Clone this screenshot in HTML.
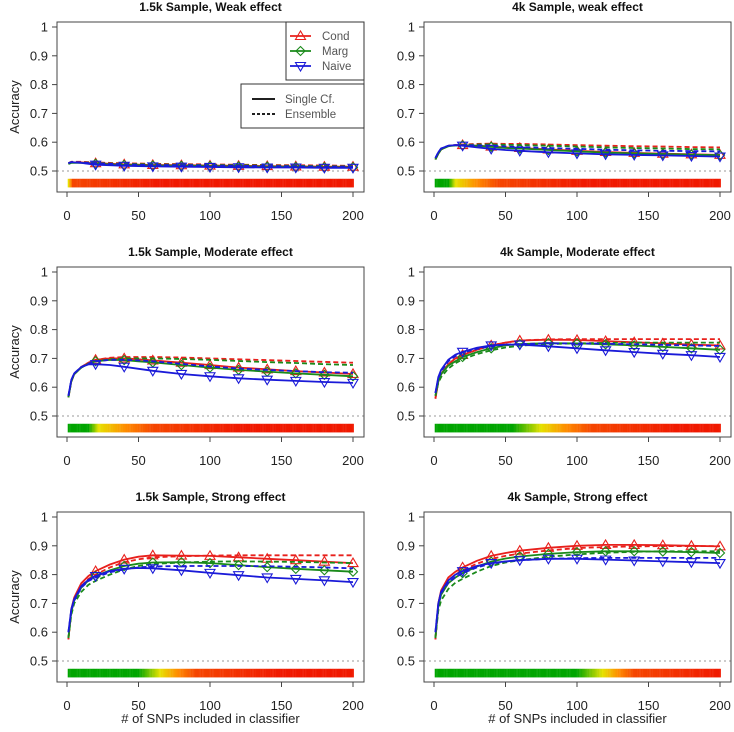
<!DOCTYPE html>
<html><head><meta charset="utf-8"><style>
body{margin:0;background:#fff;}
svg text{font-family:"Liberation Sans",Arial,sans-serif;}
</style></head><body>
<svg id="chart" width="734" height="727" viewBox="0 0 734 727" xmlns="http://www.w3.org/2000/svg"></svg>
<script>
const xs = [1,3,5,10,15,20,30,40,50,60,80,100,120,140,160,180,200];
const markerXs = [20,40,60,80,100,120,140,160,180,200];
const yTicks = [0.5,0.6,0.7,0.8,0.9,1];
const yTickLabels = ["0.5","0.6","0.7","0.8","0.9","1"];
const xTicks = [0,50,100,150,200];
const titles = ["1.5k Sample, Weak effect","4k Sample, weak effect","1.5k Sample, Moderate effect","4k Sample, Moderate effect","1.5k Sample, Strong effect","4k Sample, Strong effect"];

const p1condS=[.525,.53,.53,.53,.528,.527,.525,.523,.522,.521,.52,.519,.518,.517,.516,.515,.515];
const p1condE=[.527,.532,.532,.532,.531,.53,.528,.527,.526,.525,.524,.523,.522,.521,.52,.519,.518];
const p1margS=[.524,.528,.528,.528,.526,.525,.523,.521,.52,.519,.518,.517,.516,.515,.514,.513,.513];
const p1margE=[.526,.53,.53,.53,.529,.528,.526,.525,.524,.523,.522,.521,.52,.519,.518,.517,.516];
const p1naiveS=[.527,.531,.53,.528,.525,.522,.52,.518,.517,.516,.515,.514,.513,.512,.512,.511,.511];
const p1naiveE=[.527,.531,.531,.53,.528,.527,.525,.523,.522,.521,.52,.519,.518,.517,.516,.515,.515];

const p2condS=[.54,.56,.575,.587,.59,.59,.588,.585,.582,.58,.575,.57,.566,.563,.56,.558,.556];
const p2condE=[.54,.56,.575,.587,.59,.592,.594,.595,.594,.594,.592,.59,.588,.586,.585,.583,.582];
const p2margS=[.54,.56,.575,.586,.589,.589,.587,.584,.58,.578,.573,.568,.564,.561,.559,.557,.555];
const p2margE=[.54,.56,.575,.586,.589,.59,.592,.592,.591,.59,.588,.585,.582,.58,.578,.576,.575];
const p2naiveS=[.545,.565,.578,.588,.59,.588,.582,.577,.573,.57,.565,.561,.558,.556,.554,.552,.55];
const p2naiveE=[.545,.565,.578,.588,.59,.59,.589,.587,.585,.583,.58,.577,.574,.572,.57,.569,.568];

const p3condS=[.565,.62,.645,.67,.685,.695,.7,.7,.697,.693,.685,.677,.668,.662,.656,.651,.646];
const p3condE=[.565,.62,.645,.67,.685,.695,.702,.705,.705,.705,.703,.7,.697,.694,.691,.688,.685];
const p3margS=[.565,.62,.645,.668,.682,.69,.695,.694,.69,.686,.677,.668,.66,.654,.648,.643,.638];
const p3margE=[.565,.62,.645,.668,.682,.69,.697,.7,.7,.7,.698,.695,.691,.687,.684,.68,.677];
const p3naiveS=[.57,.625,.648,.67,.679,.68,.677,.671,.664,.657,.646,.638,.631,.626,.622,.618,.615];
const p3naiveE=[.57,.625,.648,.67,.682,.69,.695,.695,.693,.69,.681,.672,.665,.66,.656,.652,.65];

const p4condS=[.56,.62,.645,.68,.7,.712,.73,.745,.755,.762,.765,.764,.76,.756,.752,.748,.745];
const p4condE=[.56,.62,.645,.68,.7,.712,.73,.745,.755,.762,.766,.767,.767,.767,.767,.767,.767];
const p4margS=[.57,.62,.645,.675,.69,.705,.722,.735,.745,.75,.753,.752,.749,.745,.74,.735,.73];
const p4margE=[.57,.615,.635,.665,.683,.697,.715,.728,.738,.744,.75,.752,.754,.755,.755,.755,.755];
const p4naiveS=[.58,.635,.66,.695,.713,.723,.737,.745,.748,.748,.742,.735,.728,.722,.716,.711,.705];
const p4naiveE=[.58,.63,.655,.69,.708,.72,.733,.742,.748,.75,.752,.752,.751,.749,.747,.745,.743];

const p5condS=[.575,.68,.72,.77,.795,.812,.835,.852,.862,.867,.866,.865,.86,.855,.85,.845,.84];
const p5condE=[.575,.67,.71,.76,.785,.8,.825,.843,.853,.86,.864,.866,.867,.867,.867,.867,.867];
const p5margS=[.58,.67,.71,.755,.78,.795,.815,.83,.838,.842,.843,.84,.833,.826,.82,.815,.81];
const p5margE=[.58,.66,.7,.74,.765,.778,.8,.818,.83,.837,.842,.845,.846,.845,.844,.842,.84];
const p5naiveS=[.6,.68,.715,.76,.782,.795,.812,.82,.823,.822,.815,.806,.798,.79,.785,.78,.774];
const p5naiveE=[.6,.675,.71,.755,.778,.79,.808,.818,.825,.828,.83,.83,.83,.829,.827,.825,.822];

const p6condS=[.575,.7,.745,.79,.81,.825,.848,.865,.875,.883,.893,.9,.903,.903,.902,.9,.898];
const p6condE=[.575,.69,.735,.78,.8,.815,.838,.855,.865,.873,.884,.892,.896,.898,.899,.899,.899];
const p6margS=[.58,.69,.73,.77,.79,.805,.828,.845,.856,.863,.872,.878,.881,.881,.88,.878,.875];
const p6margE=[.58,.675,.71,.75,.772,.785,.81,.83,.842,.85,.862,.87,.876,.879,.881,.881,.881];
const p6naiveS=[.6,.7,.74,.78,.8,.812,.83,.84,.846,.85,.855,.855,.852,.849,.846,.843,.84];
const p6naiveE=[.6,.695,.735,.772,.792,.805,.825,.838,.845,.85,.855,.857,.858,.858,.858,.858,.858];

// heat bar transitions per panel: [green end, yellow at, red start] (SNP count)
const bar1=[0,1,4];
const bar2=[10,15,45];
const bar3=[15,22,60];
const bar4=[55,75,110];
const bar5=[50,65,90];
const bar6=[100,118,140];

const panels=[
 {s:[p1condS,p1condE,p1margS,p1margE,p1naiveS,p1naiveE],bar:bar1},
 {s:[p2condS,p2condE,p2margS,p2margE,p2naiveS,p2naiveE],bar:bar2},
 {s:[p3condS,p3condE,p3margS,p3margE,p3naiveS,p3naiveE],bar:bar3},
 {s:[p4condS,p4condE,p4margS,p4margE,p4naiveS,p4naiveE],bar:bar4},
 {s:[p5condS,p5condE,p5margS,p5margE,p5naiveS,p5naiveE],bar:bar5},
 {s:[p6condS,p6condE,p6margS,p6margE,p6naiveS,p6naiveE],bar:bar6}
];
const NS="http://www.w3.org/2000/svg";
const svg=document.getElementById('chart');
function mk(tag,attrs,parent){const e=document.createElementNS(NS,tag);for(const k in attrs)e.setAttribute(k,attrs[k]);(parent||svg).appendChild(e);return e;}
const colors=['#e8201c','#e8201c','#1a8a1a','#1a8a1a','#1a1ad8','#1a1ad8'];
const seriesNames=['cond-single','cond-ensemble','marg-single','marg-ensemble','naive-single','naive-ensemble'];
function lerp(a,b,t){return a.map((v,i)=>Math.round(v+(b[i]-v)*t));}
function barColor(x,b){
 const G=[0,165,0],Y=[230,225,0],O=[255,140,0],R=[240,25,0];
 if(x<=b[0])return G;
 if(x<=b[1])return lerp(G,Y,(x-b[0])/Math.max(1,b[1]-b[0]));
 const mid=(b[1]+b[2])/2;
 if(x<=mid)return lerp(Y,O,(x-b[1])/Math.max(1,mid-b[1]));
 if(x<=b[2])return lerp(O,[245,70,0],(x-mid)/Math.max(1,b[2]-mid));
 return lerp([245,70,0],R,Math.min(1,(x-b[2])/60));
}
panels.forEach((p,i)=>{
 const col=i%2,row=Math.floor(i/2);
 const L=57+col*367,T=22+row*245,W=307,H=170;
 const g=mk('g',{});
 
 
 const X=v=>L+10+v*1.43;
 const Y=v=>T+5+(1-v)*288;
 const t=mk('text',{x:L+W/2,y:T-11,'text-anchor':'middle','font-size':'12','font-weight':'bold',fill:'#111'},g);
 t.textContent=titles[i];
 
 
 // heat bar
 const hb=mk('g',{},g);
 
 
 for(let x=1;x<=200;x++){const c=barColor(x,p.bar);mk('rect',{x:X(x-0.5),y:Y(0.473),width:1.6,height:Y(0.443)-Y(0.473),fill:`rgb(${c})`},hb);}
 const ref=mk('line',{x1:L,x2:L+W,y1:Y(0.5),y2:Y(0.5),stroke:'#999','stroke-dasharray':'2,3','stroke-width':1},g);
 
 
 p.s.forEach((arr,k)=>{
  const d=arr.map((v,j)=>(j?'L':'M')+X(xs[j]).toFixed(1)+','+Y(v).toFixed(1)).join('');
  const pa=mk('path',{d:d,fill:'none',stroke:colors[k],'stroke-width':1.8,'stroke-dasharray':k%2?'5,3':'none'},g);
  
  
  if(k%2===0){
   markerXs.forEach(mx=>{
    const j=xs.indexOf(mx);const cx=X(mx),cy=Y(arr[j]);let pts;
    if(k===0)pts=`${cx},${cy-5} ${cx-5},${cy+3.5} ${cx+5},${cy+3.5}`;
    else if(k===2)pts=`${cx},${cy-4.5} ${cx+4.5},${cy} ${cx},${cy+4.5} ${cx-4.5},${cy}`;
    else pts=`${cx},${cy+5} ${cx-5},${cy-3.5} ${cx+5},${cy-3.5}`;
    const m=mk('polygon',{points:pts,fill:'none',stroke:colors[k],'stroke-width':1.1},g);
    
    
   });
  }
 });
 const box=mk('rect',{x:L,y:T,width:W,height:H,fill:'none',stroke:'#444','stroke-width':1},g);
 
 
 yTicks.forEach((v,j)=>{
  mk('line',{x1:L,x2:L-5,y1:Y(v),y2:Y(v),stroke:'#444'},g);
  const tx=mk('text',{x:L-9,y:Y(v)+4.5,'text-anchor':'end','font-size':'13',fill:'#222'},g);
  tx.textContent=yTickLabels[j];
  
  
 });
 xTicks.forEach(v=>{
  mk('line',{x1:X(v),x2:X(v),y1:T+H,y2:T+H+5,stroke:'#444'},g);
  const tx=mk('text',{x:X(v),y:T+H+28,'text-anchor':'middle','font-size':'13',fill:'#222'},g);
  tx.textContent=v;
  
  
 });
 if(col===0){
  const yl=mk('text',{x:0,y:0,transform:`translate(19,${T+H/2}) rotate(-90)`,'text-anchor':'middle','font-size':'13',fill:'#222'},g);
  yl.textContent='Accuracy';
  
  
 }
 if(row===2){
  const xl=mk('text',{x:L+W/2,y:723,'text-anchor':'middle','font-size':'13',fill:'#222'},g);
  xl.textContent='# of SNPs included in classifier';
  
  
 }
});
// legends
const lg=mk('g',{});


mk('rect',{x:286,y:22,width:78,height:58,fill:'#fff',stroke:'#333'},lg);
[['Cond',0,'up'],['Marg',2,'dia'],['Naive',4,'down']].forEach((e,j)=>{
 const cy=36+j*15,c=colors[e[1]];
 mk('line',{x1:290,x2:311,y1:cy,y2:cy,stroke:c,'stroke-width':1.8},lg);
 const cx=300.5;let pts;
 if(e[2]==='up')pts=`${cx},${cy-5} ${cx-5},${cy+3.5} ${cx+5},${cy+3.5}`;
 else if(e[2]==='dia')pts=`${cx},${cy-4.5} ${cx+4.5},${cy} ${cx},${cy+4.5} ${cx-4.5},${cy}`;
 else pts=`${cx},${cy+5} ${cx-5},${cy-3.5} ${cx+5},${cy-3.5}`;
 mk('polygon',{points:pts,fill:'none',stroke:c,'stroke-width':1.1},lg);
 const t=mk('text',{x:322,y:cy+4,'font-size':'11.5',fill:'#555','font-family':'Liberation Mono, monospace'},lg);
 t.textContent=e[0];
 
 
});
const lg2=mk('g',{});


mk('rect',{x:241,y:84,width:123,height:44,fill:'#fff',stroke:'#333'},lg2);
[['Single Cf.','none'],['Ensemble','3,2']].forEach((e,j)=>{
 const cy=99+j*15;
 mk('line',{x1:252,x2:275,y1:cy,y2:cy,stroke:'#000','stroke-width':1.8,'stroke-dasharray':e[1]},lg2);
 const t=mk('text',{x:285,y:cy+4,'font-size':'11.5',fill:'#555','font-family':'Liberation Mono, monospace'},lg2);
 t.textContent=e[0];
 
 
});
</script>
</body></html>
